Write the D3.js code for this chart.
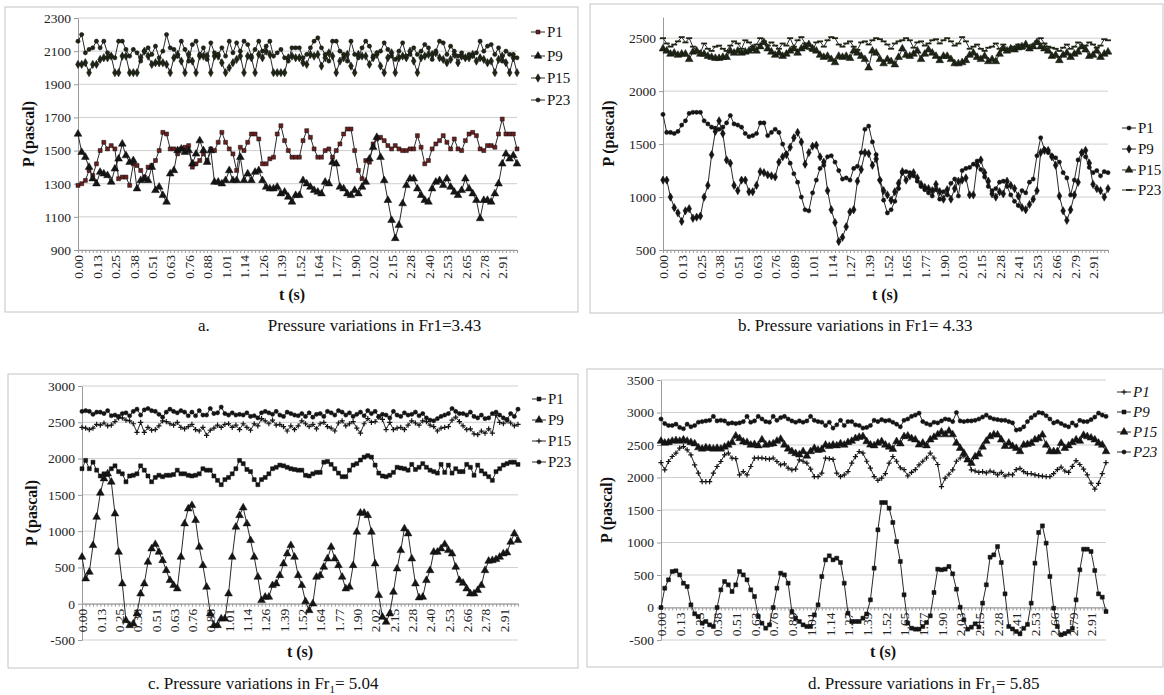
<!DOCTYPE html>
<html>
<head>
<meta charset="utf-8">
<script src="https://cdn.jsdelivr.net/npm/d3@7"></script>
<style>
  body { margin: 0; background: #fff; }
  svg text { font-family: "Liberation Serif", "Times New Roman", Times, "DejaVu Serif", serif !important; }
</style>
</head>
<body>
<script>
// tick labels of the category (time) axis, one every 5 samples
const labA = ["0.00","0.13","0.25","0.38","0.51","0.63","0.76","0.88","1.01","1.14","1.26","1.39","1.52","1.64","1.77","1.90","2.02","2.15","2.28","2.40","2.53","2.65","2.78","2.91"];
const labB = ["0.00","0.13","0.25","0.38","0.51","0.63","0.76","0.89","1.01","1.14","1.27","1.39","1.52","1.65","1.77","1.90","2.03","2.15","2.28","2.41","2.53","2.66","2.79","2.91"];
const labC = ["0.00","0.13","0.25","0.38","0.51","0.63","0.76","0.88","1.01","1.14","1.26","1.39","1.52","1.64","1.77","1.90","2.02","2.15","2.28","2.40","2.53","2.66","2.78","2.91"];
const labD = ["0.00","0.13","0.25","0.38","0.51","0.63","0.76","0.89","1.01","1.14","1.27","1.39","1.52","1.65","1.77","1.90","2.03","2.15","2.28","2.41","2.53","2.66","2.79","2.91"];

// a. Fr1 = 3.43
const aP1 = [1290,1300,1320,1380,1350,1420,1500,1550,1510,1530, 1510,1330,1340,1340,1290,1420,1410,1380,1340,1400,
  1410,1440,1500,1610,1600,1510,1510,1480,1510,1520, 1530,1400,1420,1440,1480,1440,1510,1500,1550,1610,
  1550,1510,1480,1380,1520,1500,1550,1600,1600,1570, 1420,1420,1450,1460,1600,1650,1560,1500,1460,1460,
  1460,1560,1620,1580,1510,1460,1460,1500,1510,1460, 1500,1540,1600,1630,1630,1500,1380,1330,1440,1430,
  1540,1570,1580,1560,1530,1510,1530,1510,1500,1500, 1510,1510,1590,1520,1420,1440,1510,1540,1560,1590,
  1550,1510,1570,1510,1500,1560,1600,1610,1590,1510, 1500,1530,1530,1520,1600,1690,1600,1600,1600,1510];
const aP9 = [1600,1490,1460,1400,1330,1300,1370,1360,1350,1310, 1390,1450,1540,1470,1430,1440,1270,1320,1330,1320,
  1400,1260,1280,1230,1190,1360,1380,1500,1510,1490, 1500,1420,1480,1560,1500,1430,1500,1310,1310,1300,
  1320,1380,1320,1320,1460,1320,1360,1320,1370,1380, 1320,1280,1270,1270,1280,1240,1250,1220,1190,1230,
  1230,1320,1300,1280,1260,1250,1240,1310,1300,1430, 1420,1280,1270,1240,1230,1260,1240,1280,1310,1450,
  1520,1580,1460,1320,1200,1080,970,1050,1180,1290, 1330,1330,1270,1230,1200,1190,1270,1310,1320,1290,
  1330,1280,1250,1230,1260,1330,1270,1240,1200,1090, 1200,1200,1190,1240,1300,1420,1480,1450,1470,1420];
const aP15 = [2020,2020,2030,1970,2020,2020,2050,2060,2060,2070, 1970,1970,2070,2070,1970,1970,1970,2060,2100,2070,
  2020,2030,2030,2030,2020,1970,2060,2080,2040,1970, 2080,2040,1970,2070,2070,2070,1970,2070,2070,2030,
  1970,2000,2030,2050,2070,1970,2070,2060,1970,2080, 2060,2100,2080,1970,1970,1970,1970,2060,2070,2060,
  2060,2030,2020,2080,2070,2080,2010,2060,2090,2070, 1970,2040,2060,2080,2010,1970,2080,2070,2070,2020,
  2060,2080,2010,1970,2060,2090,1970,2060,2070,2060, 2100,2040,1970,2060,2070,2080,2080,2090,2060,2050,
  2030,2050,2080,2030,2070,2060,2060,2080,2040,2060, 2050,2030,2040,1970,2050,2070,2030,1970,2060,1970];
const aP23 = [2160,2200,2090,2110,2120,2160,2120,2160,2090,2070, 2060,2160,2160,2110,2070,2110,2090,2040,2100,2120,
  2080,2130,2060,2100,2200,2120,2110,2070,2160,2110, 2040,2140,2160,2080,2120,2050,2150,2090,2080,2120,
  2070,2160,2090,2150,2100,2160,2140,2070,2110,2160, 2100,2130,2160,2070,2090,2110,2060,2040,2120,2120,
  2120,2060,2080,2120,2160,2180,2120,2080,2040,2160, 2160,2100,2080,2040,2160,2080,2060,2120,2160,2130,
  2070,2090,2100,2150,2110,2070,2050,2100,2150,2070, 2080,2120,2080,2100,2140,2120,2050,2100,2160,2150,
  2080,2130,2100,2070,2090,2060,2080,2070,2090,2160, 2100,2130,2140,2080,2120,2040,2100,2080,2080,2060];

// b. Fr1 = 4.33
const bP1 = [1780,1610,1610,1600,1620,1680,1720,1790,1800,1800, 1800,1720,1690,1660,1650,1640,1660,1700,1770,1690,
  1680,1660,1600,1570,1580,1600,1700,1700,1580,1610, 1640,1610,1500,1410,1320,1220,1140,1000,880,870,
  1040,1160,1270,1300,1380,1390,1330,1250,1170,1180, 1160,1270,1290,1420,1640,1670,1520,1400,1160,970,
  850,880,960,1080,1230,1240,1230,1200,1150,1100, 1070,1040,1010,1070,980,1050,1020,1130,1170,1010,
  1250,1270,1280,1310,1340,1260,1190,1100,1060,1080, 1140,1150,1100,1020,960,920,1060,1040,1140,1170,
  1390,1560,1450,1420,1390,1370,1330,1230,1180,1020, 1160,1350,1420,1380,1280,1230,1250,1200,1240,1230];
const bP9 = [1160,1160,1000,900,850,770,870,890,800,810, 820,1000,1110,1400,1620,1720,1600,1350,1320,1110,
  1060,1160,1160,1050,1050,1110,1240,1230,1210,1200, 1190,1330,1380,1400,1470,1560,1610,1520,1310,1420,
  1480,1490,1380,1330,1060,880,760,580,620,720, 860,880,1150,1260,1420,1410,1300,1360,1160,1060,
  1020,970,1050,1130,1240,1160,1200,1230,1180,1120, 1090,1080,1060,1120,1050,980,1070,980,1080,1150,
  1160,1180,1020,1020,1300,1350,1230,1150,1030,1000, 1050,1030,1150,1110,1080,1010,900,880,930,980,
  1060,1420,1440,1440,1380,1300,1010,870,780,880, 1020,1140,1420,1440,1320,1120,1080,1060,1000,1080];
const bP15 = [2400,2380,2350,2360,2340,2350,2350,2300,2370,2380, 2350,2350,2330,2320,2310,2310,2320,2320,2380,2360,
  2380,2360,2370,2380,2400,2380,2420,2460,2400,2370, 2340,2360,2330,2350,2380,2400,2360,2400,2420,2440,
  2400,2380,2340,2320,2330,2300,2270,2330,2320,2330, 2310,2380,2360,2330,2300,2220,2380,2360,2300,2260,
  2300,2280,2250,2320,2400,2340,2330,2350,2380,2300, 2350,2390,2360,2330,2290,2330,2330,2300,2260,2260,
  2270,2290,2340,2360,2320,2300,2330,2280,2300,2280, 2350,2400,2380,2400,2390,2410,2420,2440,2400,2420,
  2460,2420,2400,2380,2330,2340,2290,2340,2360,2320, 2350,2370,2420,2390,2330,2340,2380,2320,2350,2370];
const bP23 = [2500,2450,2420,2440,2470,2510,2460,2500,2420,2380, 2360,2450,2400,2380,2420,2430,2400,2380,2430,2470,
  2450,2400,2480,2460,2420,2440,2500,2470,2430,2460, 2430,2400,2450,2430,2500,2420,2480,2510,2450,2400,
  2380,2460,2470,2420,2480,2510,2500,2440,2420,2450, 2470,2420,2390,2460,2470,2440,2480,2500,2490,2470,
  2440,2400,2450,2470,2480,2500,2480,2410,2460,2470, 2430,2450,2480,2490,2450,2480,2500,2470,2430,2450,
  2510,2470,2400,2420,2440,2400,2380,2410,2420,2450, 2400,2440,2400,2380,2420,2440,2400,2420,2420,2440,
  2470,2500,2450,2420,2410,2400,2380,2410,2440,2400, 2420,2460,2410,2430,2460,2440,2410,2430,2490,2480];

// c. Fr1 = 5.04
const cP1 = [1860,1975,1860,1950,1840,1760,1790,1780,1860,1900, 1820,1790,1680,1760,1770,1790,1900,1840,1760,1680,
  1740,1770,1750,1770,1770,1780,1840,1790,1790,1770, 1760,1770,1790,1860,1840,1840,1760,1700,1640,1710,
  1740,1790,1860,1975,1930,1850,1820,1710,1640,1710, 1740,1790,1860,1880,1910,1900,1880,1860,1850,1840,
  1840,1770,1760,1790,1810,1810,1950,1960,1920,1860, 1800,1750,1750,1840,1910,1930,1980,2020,2040,2020,
  1910,1800,1760,1750,1770,1810,1880,1870,1860,1840, 1920,1850,1880,1930,1880,1840,1820,1800,1920,1810,
  1910,1800,1860,1820,1820,1920,1880,1770,1910,1830, 1790,1750,1700,1820,1860,1910,1930,1950,1950,1920];
const cP9 = [643,345,436,804,1194,1525,1723,1792,1677,1240, 712,276,-230,-299,-276,-138,138,276,574,758,
  818,712,597,459,322,253,207,643,1103,1309, 1355,1149,781,528,230,-138,-299,-299,-207,-207,
  138,643,1057,1217,1323,1103,873,643,368,46, 92,92,253,276,390,551,689,804,643,390,
  253,30,-92,0,368,390,505,620,781,620, 528,368,207,230,528,988,1250,1250,1217,988,
  551,115,-184,-253,-138,161,482,735,1034,965, 620,276,83,92,322,459,712,712,758,818,
  735,689,505,322,285,207,138,138,184,253, 459,588,597,611,643,689,703,850,965,873];
const cP15 = [2430,2420,2400,2420,2470,2460,2490,2450,2460,2510, 2560,2560,2530,2520,2480,2360,2500,2360,2430,2390,
  2400,2450,2520,2510,2480,2460,2500,2430,2410,2440, 2470,2400,2380,2430,2320,2390,2420,2460,2430,2470,
  2480,2430,2460,2400,2480,2430,2390,2480,2450,2550, 2520,2480,2530,2460,2470,2440,2380,2450,2400,2450,
  2520,2480,2440,2470,2410,2480,2500,2440,2420,2380, 2490,2520,2450,2480,2510,2420,2350,2480,2550,2500,
  2510,2570,2540,2400,2500,2400,2420,2430,2400,2460, 2520,2490,2460,2520,2510,2460,2440,2380,2420,2430,
  2440,2530,2570,2510,2450,2400,2410,2340,2330,2380, 2350,2410,2350,2600,2500,2480,2520,2490,2450,2470];
const cP23 = [2650,2660,2650,2610,2640,2640,2620,2660,2590,2600, 2580,2620,2630,2590,2650,2680,2600,2670,2690,2660,
  2650,2610,2570,2640,2680,2650,2630,2660,2640,2590, 2640,2590,2660,2600,2600,2690,2620,2630,2710,2620,
  2600,2630,2600,2610,2600,2630,2580,2590,2560,2630, 2650,2630,2610,2650,2600,2580,2640,2620,2600,2590,
  2620,2580,2630,2570,2610,2620,2580,2650,2630,2600, 2660,2640,2600,2630,2580,2610,2640,2590,2660,2620,
  2650,2580,2610,2600,2560,2650,2600,2580,2630,2600, 2610,2640,2590,2620,2560,2530,2520,2550,2580,2600,
  2620,2690,2650,2620,2620,2600,2640,2580,2560,2600, 2550,2560,2620,2640,2600,2560,2540,2620,2580,2680];

// d. Fr1 = 5.85
const dP1 = [2230,2118,2246,2323,2374,2451,2477,2426,2349,2195, 2067,1938,1938,1938,2067,2169,2246,2349,2374,2297,
  2290,2041,2092,2041,2169,2297,2300,2300,2290,2282, 2300,2246,2195,2210,2144,2118,2130,2272,2250,2220,
  2128,2015,2015,2067,2297,2290,2280,2067,2015,2040, 2090,2220,2320,2400,2374,2250,2144,2015,1954,1990,
  2060,2220,2323,2250,2150,2120,2026,2080,2120,2195, 2250,2300,2374,2300,2200,1861,1990,2050,2118,2250,
  2300,2333,2290,2118,2100,2080,2090,2070,2100,2080, 2040,2080,2020,2050,2040,2120,2140,2090,2060,2060,
  2040,2030,2020,2015,2015,2060,2120,2160,2100,2080, 2170,2261,2200,2130,2040,1913,1820,1910,2060,2230];
const dP9 = [0,297,426,554,564,502,374,323,41,-97, -138,-241,-215,-267,-292,0,272,400,349,246,
  349,554,502,426,272,169,-138,-241,-318,-267, 0,297,528,502,374,-62,-164,-215,-267,-292,
  -292,-113,41,477,733,795,733,759,692,374, -87,-215,-215,-215,-164,-100,118,605,1195,1615,
  1615,1528,1308,1015,708,195,-241,-318,-333,-333, -292,-231,-128,231,590,580,590,631,518,282,
  5,-190,-333,-303,-251,-300,67,349,774,810, 938,692,210,-292,-330,-369,-405,-320,-260,67,
  682,1154,1256,990,477,-10,-292,-420,-400,-369, -320,118,580,897,897,862,569,210,159,-62];
const dP15 = [2560,2530,2540,2560,2570,2560,2580,2560,2540,2520, 2460,2440,2460,2450,2440,2450,2440,2470,2500,2540,
  2640,2600,2550,2540,2500,2510,2490,2580,2500,2510, 2520,2560,2590,2500,2440,2400,2370,2350,2400,2330,
  2400,2450,2420,2430,2500,2480,2500,2490,2520,2500, 2540,2560,2600,2620,2630,2554,2502,2490,2530,2554,
  2500,2470,2436,2554,2520,2630,2640,2600,2580,2502, 2530,2490,2580,2620,2660,2700,2660,2714,2660,2530,
  2450,2374,2272,2220,2320,2360,2470,2560,2630,2660, 2656,2580,2480,2530,2480,2450,2400,2500,2510,2528,
  2580,2600,2656,2500,2400,2400,2400,2528,2450,2490, 2540,2580,2560,2650,2630,2610,2580,2530,2500,2400];
const dP23 = [2900,2830,2800,2800,2820,2770,2750,2820,2780,2800, 2850,2860,2870,2880,2940,2870,2880,2870,2830,2840,
  2830,2840,2860,2940,2850,2870,2940,2900,2860,2850, 2940,2880,2920,2940,2900,2870,2850,2870,2850,2870,
  2940,2880,2860,2850,2800,2850,2760,2810,2880,2800, 2860,2860,2810,2800,2760,2770,2800,2880,2860,2890,
  2870,2880,2850,2820,2780,2880,2900,2940,2960,2990, 2860,2830,2810,2850,2840,2870,2900,2890,2860,3000,
  2870,2860,2870,2870,2880,2900,2930,2960,2920,2900, 2890,2880,2880,2860,2840,2730,2740,2780,2860,2920,
  2960,3000,2990,2950,2900,2840,2860,2830,2800,2780, 2840,2800,2880,2860,2860,2890,2930,2990,2960,2940];

const seriesNames = ["P1", "P9", "P15", "P23"];
const serif = "'Liberation Serif', 'Times New Roman', 'DejaVu Serif', serif";

const svg = d3.select("body").append("svg")
    .attr("width", 1164)
    .attr("height", 695)
    .attr("font-family", serif)
    .style("background", "#fff");

// marker path for a given kind, centred on 0,0
function markerPath(kind) {
    if (kind === "plus") return "M-2.6,0H2.6M0,-2.6V2.6";
    if (kind === "dash") return "M-3,0H3";
    const types = {square: d3.symbolSquare, triangle: d3.symbolTriangle, diamond: d3.symbolDiamond, circle: d3.symbolCircle};
    const sizes = {square: 16, triangle: 26, diamond: 20, circle: 14};
    return d3.symbol().type(types[kind]).size(sizes[kind])();
}

function drawMarker(g, kind, fill, cx, cy) {
    const stroked = kind === "plus" || kind === "dash";
    g.append("path")
        .attr("d", markerPath(kind))
        .attr("transform", "translate(" + cx + "," + cy + ")")
        .attr("fill", stroked ? "none" : fill)
        .attr("stroke", stroked ? fill : "#111")
        .attr("stroke-width", kind === "dash" ? 1.8 : (stroked ? 1.2 : 0.5));
}

function drawPanel(p) {
    const g = svg.append("g");
    const n = p.series[0].data.length;

    // outer frame of the chart
    g.append("rect")
        .attr("x", p.frame[0]).attr("y", p.frame[1])
        .attr("width", p.frame[2] - p.frame[0]).attr("height", p.frame[3] - p.frame[1])
        .attr("fill", "none").attr("stroke", "#c4c4c4").attr("stroke-width", 1);

    const x = d3.scaleLinear().domain([0, n - 1]).range([p.left, p.right]);
    const y = d3.scaleLinear().domain(p.yDomain).range([p.bottom, p.top]);

    // horizontal gridlines
    g.selectAll(".grid").data(p.yTicks).join("line")
        .attr("x1", p.left).attr("x2", p.right)
        .attr("y1", d => y(d)).attr("y2", d => y(d))
        .attr("stroke", "#cfcfcf").attr("stroke-width", 1);

    // y axis
    const ya = g.append("g")
        .attr("transform", "translate(" + p.left + ",0)")
        .call(d3.axisLeft(y).tickValues(p.yTicks).tickSize(4).tickSizeOuter(0).tickFormat(d => String(d)));
    ya.attr("font-family", serif);
    ya.select(".domain").attr("stroke", "#9a9a9a");
    ya.selectAll("line").attr("stroke", "#9a9a9a");
    ya.selectAll("text").attr("font-size", 13.5).attr("fill", "#222");

    // category axis, crossing at p.xAt
    const xa = g.append("g")
        .attr("transform", "translate(0," + y(p.xAt) + ")")
        .call(d3.axisBottom(x).tickValues(d3.range(n)).tickSize(3).tickSizeOuter(0)
            .tickFormat(i => i % 5 === 0 && p.labels[i / 5] ? p.labels[i / 5] : ""));
    xa.attr("font-family", serif);
    xa.select(".domain").attr("stroke", "#9a9a9a");
    xa.selectAll("line").attr("stroke", "#9a9a9a");
    xa.selectAll("text")
        .attr("transform", "rotate(-90)")
        .attr("text-anchor", "end")
        .attr("x", -5).attr("y", 0).attr("dy", "0.35em")
        .attr("font-size", 13.5).attr("fill", "#222");

    // series lines and markers
    const line = d3.line().x((d, i) => x(i)).y(d => y(d));
    p.series.forEach(s => {
        g.append("path")
            .attr("d", line(s.data))
            .attr("fill", "none")
            .attr("stroke", s.stroke || "#2a2a2a")
            .attr("stroke-width", 1);
        const mg = g.append("g");
        s.data.forEach((v, i) => drawMarker(mg, s.marker, s.fill, x(i), y(v)));
    });

    // y title
    g.append("text")
        .attr("transform", "translate(" + p.yTitleX + "," + ((p.top + p.bottom) / 2) + ") rotate(-90)")
        .attr("text-anchor", "middle")
        .attr("font-size", 16).attr("font-weight", "bold").attr("fill", "#111")
        .text("P (pascal)");

    // x title
    g.append("text")
        .attr("x", p.xTitle[0]).attr("y", p.xTitle[1])
        .attr("text-anchor", "middle")
        .attr("font-size", 16).attr("font-weight", "bold").attr("fill", "#111")
        .text("t (s)");

    // legend
    p.series.forEach((s, k) => {
        const ly = p.legend.y[k];
        g.append("line")
            .attr("x1", p.legend.x).attr("x2", p.legend.x + 14)
            .attr("y1", ly).attr("y2", ly)
            .attr("stroke", "#2a2a2a").attr("stroke-width", 1);
        drawMarker(g, s.marker, s.fill, p.legend.x + 7, ly);
        g.append("text")
            .attr("x", p.legend.x + 16).attr("y", ly).attr("dy", "0.35em")
            .attr("font-size", 15).attr("fill", "#111")
            .style("font-style", p.legend.italic ? "italic" : "normal")
            .text(seriesNames[k]);
    });
}

drawPanel({
    frame: [5, 7, 578, 312], left: 78, right: 517, top: 18, bottom: 250,
    yDomain: [900, 2300], yTicks: d3.range(900, 2301, 200), xAt: 900, labels: labA,
    yTitleX: 34, xTitle: [292, 300],
    legend: {x: 531, y: [32, 56, 78, 100], italic: false},
    series: [
        {data: aP1, marker: "square", fill: "#6a1f1f"},
        {data: aP9, marker: "triangle", fill: "#151515"},
        {data: aP15, marker: "diamond", fill: "#1d2614"},
        {data: aP23, marker: "circle", fill: "#1d2614"}
    ]
});

drawPanel({
    frame: [590, 4, 1163, 313], left: 663, right: 1108, top: 17, bottom: 250,
    yDomain: [500, 2700], yTicks: d3.range(500, 2501, 500), xAt: 500, labels: labB,
    yTitleX: 614, xTitle: [885, 300],
    legend: {x: 1122, y: [128, 149, 170, 190], italic: false},
    series: [
        {data: bP1, marker: "circle", fill: "#151515"},
        {data: bP9, marker: "diamond", fill: "#151515"},
        {data: bP15, marker: "triangle", fill: "#1d2614"},
        {data: bP23, marker: "dash", fill: "#1d2614"}
    ]
});

drawPanel({
    frame: [8, 374, 578, 668], left: 82, right: 518, top: 386, bottom: 640,
    yDomain: [-500, 3000], yTicks: d3.range(-500, 3001, 500), xAt: 0, labels: labC,
    yTitleX: 37, xTitle: [300, 657],
    legend: {x: 532, y: [399, 420, 441, 462], italic: false},
    series: [
        {data: cP1, marker: "square", fill: "#151515"},
        {data: cP9, marker: "triangle", fill: "#151515"},
        {data: cP15, marker: "plus", fill: "#151515"},
        {data: cP23, marker: "circle", fill: "#151515"}
    ]
});

drawPanel({
    frame: [587, 369, 1163, 667], left: 661, right: 1106, top: 380, bottom: 640,
    yDomain: [-500, 3500], yTicks: d3.range(-500, 3501, 500), xAt: 0, labels: labD,
    yTitleX: 612, xTitle: [883, 657],
    legend: {x: 1117, y: [392, 412, 432, 452], italic: true},
    series: [
        {data: dP1, marker: "plus", fill: "#151515"},
        {data: dP9, marker: "square", fill: "#151515"},
        {data: dP15, marker: "triangle", fill: "#151515"},
        {data: dP23, marker: "circle", fill: "#151515"}
    ]
});

// captions under each chart
function caption(xPos, yPos, letter, gap) {
    const t = svg.append("text")
        .attr("x", xPos).attr("y", yPos)
        .attr("font-size", 17).attr("fill", "#111");
    t.append("tspan").text(letter);
    t.append("tspan").attr("dx", gap).text("Pressure variations in Fr");
    return t;
}
caption(198, 331, "a.", 58).append("tspan").text("1=3.43");
caption(738, 331, "b.", 4).append("tspan").text("1= 4.33");
const capC = caption(148, 689, "c.", 4);
capC.append("tspan").attr("font-size", 11).attr("dy", 4).text("1");
capC.append("tspan").attr("dy", -4).text("= 5.04");
const capD = caption(808, 689, "d.", 4);
capD.append("tspan").attr("font-size", 11).attr("dy", 4).text("1");
capD.append("tspan").attr("dy", -4).text("= 5.85");
</script>
</body>
</html>
